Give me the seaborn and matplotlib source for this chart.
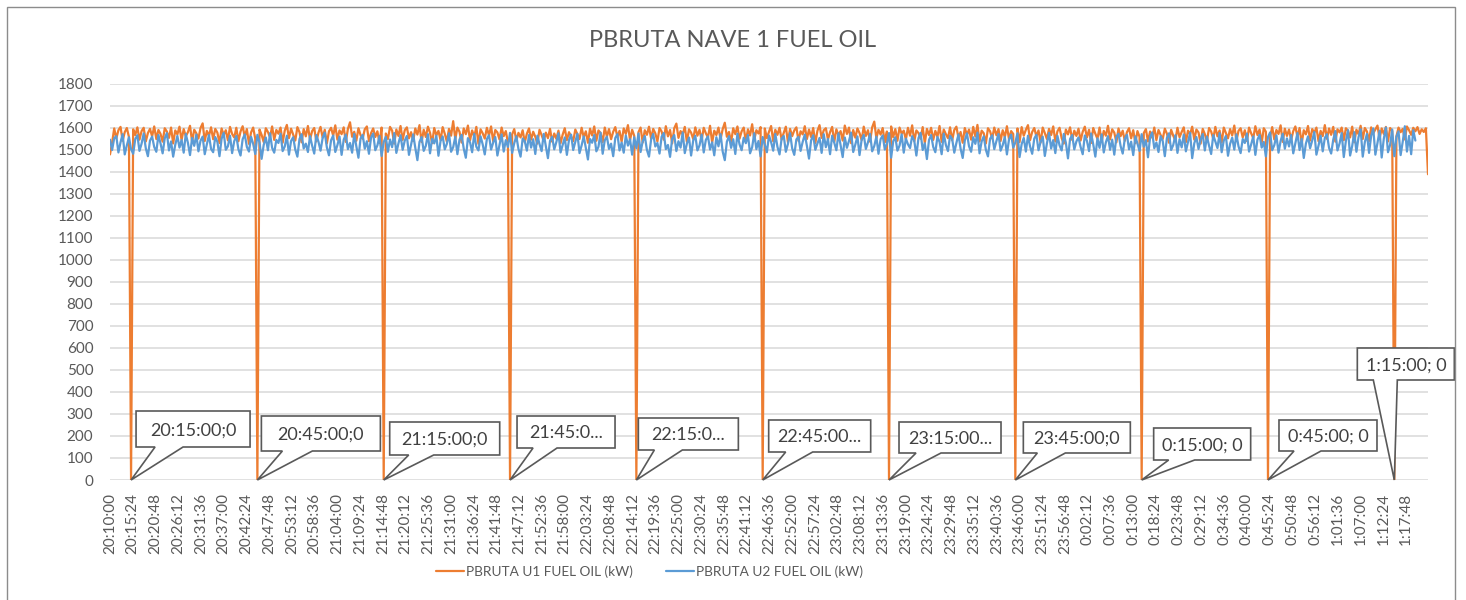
import numpy as np
import pandas as pd
import matplotlib
matplotlib.use("Agg")
import matplotlib.pyplot as plt
import matplotlib.transforms as mtransforms
from matplotlib.patches import Polygon, Rectangle
import seaborn as sns

# one sample every 30 s starting at 20:10:00
start_s = 20 * 3600 + 10 * 60
step_s = 30

u1_name = "PBRUTA U1 FUEL OIL (kW)"
u2_name = "PBRUTA U2 FUEL OIL (kW)"

u1_kw = [
    1478, 1532, 1596, 1551, 1588, 1603, 1540, 1579, 1598, 1557, 0, 1592, 1566, 1601, 1545, 1584, 1599, 1537, 1575, 1594,
    1560, 1605, 1548, 1589, 1571, 1536, 1597, 1582, 1553, 1600, 1528, 1587, 1569, 1604, 1543, 1593, 1561, 1579, 1608, 1535,
    1590, 1574, 1550, 1598, 1619, 1539, 1585, 1562, 1601, 1547, 1594, 1577, 1530, 1596, 1566, 1588, 1542, 1603, 1571, 1555,
    1599, 1538, 1582, 1606, 1559, 1593, 1526, 1578, 1600, 1549, 0, 1591, 1567, 1534, 1597, 1580, 1556, 1605, 1544, 1589,
    1572, 1600, 1531, 1586, 1612, 1552, 1595, 1568, 1541, 1602, 1579, 1533, 1593, 1560, 1607, 1546, 1584, 1598, 1537, 1576,
    1603, 1554, 1590, 1528, 1583, 1599, 1563, 1610, 1545, 1587, 1570, 1601, 1535, 1594, 1624, 1558, 1581, 1540, 1597, 1566,
    1549, 1592, 1605, 1538, 1575, 1596, 1557, 1583, 1530, 1600, 0, 1573, 1548, 1603, 1586, 1527, 1591, 1562, 1607, 1544,
    1588, 1601, 1551, 1579, 1539, 1596, 1568, 1611, 1534, 1590, 1557, 1604, 1576, 1529, 1598, 1565, 1585, 1543, 1602, 1572,
    1536, 1594, 1563, 1629, 1547, 1600, 1581, 1532, 1596, 1570, 1609, 1542, 1587, 1558, 1603, 1526, 1592, 1574, 1550, 1599,
    1564, 1605, 1537, 1589, 1578, 1546, 1600, 1561, 1584, 1531, 0, 1569, 1593, 1541, 1576, 1555, 1588, 1533, 1572, 1596,
    1545, 1581, 1558, 1527, 1590, 1566, 1539, 1577, 1552, 1594, 1536, 1573, 1549, 1586, 1529, 1568, 1597, 1543, 1579, 1560,
    1538, 1591, 1570, 1548, 1599, 1556, 1583, 1531, 1595, 1564, 1605, 1540, 1587, 1575, 1534, 1600, 1559, 1593, 1547, 1581,
    1602, 1557, 1585, 1536, 1596, 1571, 1611, 1543, 1590, 1562, 0, 1579, 1600, 1532, 1588, 1567, 1604, 1550, 1594, 1574,
    1537, 1598, 1582, 1545, 1606, 1560, 1589, 1528, 1597, 1618, 1553, 1584, 1569, 1603, 1535, 1592, 1577, 1548, 1601, 1563,
    1590, 1541, 1599, 1574, 1555, 1608, 1532, 1586, 1566, 1600, 1547, 1593, 1622, 1558, 1580, 1534, 1597, 1570, 1605, 1549,
    1583, 1600, 1539, 1592, 1564, 1615, 1544, 1588, 1573, 1602, 0, 1596, 1552, 1581, 1607, 1538, 1590, 1567, 1599, 1545,
    1576, 1604, 1533, 1594, 1561, 1587, 1601, 1540, 1583, 1569, 1606, 1548, 1591, 1557, 1598, 1530, 1585, 1611, 1553, 1588,
    1597, 1546, 1579, 1603, 1535, 1592, 1565, 1584, 1541, 1609, 1571, 1600, 1529, 1589, 1554, 1596, 1575, 1543, 1604, 1562,
    1588, 1536, 1601, 1627, 1551, 1590, 1568, 1598, 1534, 1582, 0, 1605, 1557, 1593, 1540, 1600, 1572, 1586, 1546, 1599,
    1563, 1610, 1538, 1587, 1575, 1549, 1602, 1530, 1594, 1566, 1599, 1544, 1585, 1558, 1607, 1535, 1591, 1570, 1552, 1601,
    1542, 1589, 1604, 1553, 1580, 1531, 1598, 1567, 1591, 1545, 1603, 1560, 1612, 1537, 1586, 1574, 1528, 1597, 1583, 1550,
    1600, 1565, 1593, 1539, 1588, 1556, 1606, 1547, 1584, 1571, 0, 1596, 1534, 1602, 1563, 1590, 1611, 1543, 1580, 1598,
    1559, 1587, 1532, 1600, 1575, 1548, 1594, 1566, 1605, 1537, 1583, 1599, 1552, 1527, 1591, 1569, 1601, 1544, 1586, 1562,
    1595, 1541, 1581, 1604, 1555, 1590, 1530, 1598, 1572, 1549, 1600, 1536, 1585, 1563, 1608, 1546, 1592, 1577, 1533, 1596,
    1561, 1586, 1540, 1579, 1597, 1551, 1588, 1529, 1584, 1558, 0, 1575, 1593, 1537, 1582, 1554, 1600, 1543, 1589, 1566,
    1548, 1595, 1572, 1531, 1590, 1563, 1542, 1599, 1556, 1580, 1601, 1534, 1586, 1569, 1604, 1545, 1591, 1578, 1527, 1594,
    1570, 1538, 1598, 1582, 1549, 1603, 1560, 1587, 1532, 1600, 1576, 1551, 1593, 1564, 1609, 1540, 1585, 1597, 1555, 1588,
    1539, 1600, 1574, 1552, 1606, 1566, 1591, 1530, 1597, 1581, 0, 1558, 1602, 1546, 1589, 1571, 1610, 1535, 1595, 1562,
    1591, 1544, 1584, 1605, 1557, 1598, 1527, 1588, 1569, 1607, 1541, 1593, 1576, 1600, 1538, 1585, 1561, 1611, 1549, 1596,
    1567, 1603, 1536, 1592, 1578, 1600, 1543, 1597, 1586, 1555, 1604, 1533, 1590, 1570, 1608, 1548, 1598, 1582, 1539, 1601,
    1574, 1592, 1609, 1550, 1596, 1571, 1603, 1537, 1598, 1585, 0, 1560, 1600, 1579, 1594, 1546, 1605, 1588, 1567, 1599,
    1583, 1602, 1571, 1592, 1580, 1597, 1388,
]

u2_kw = [
    1545, 1498, 1552, 1561, 1487, 1533, 1570, 1478, 1519, 1556, 1502, 1481, 1548, 1565, 1494, 1527, 1573, 1506, 1470, 1541,
    1559, 1512, 1490, 1566, 1528, 1483, 1551, 1575, 1496, 1537, 1468, 1522, 1562, 1509, 1544, 1486, 1571, 1531, 1475, 1553,
    1517, 1568, 1492, 1540, 1559, 1479, 1524, 1566, 1503, 1488, 1557, 1535, 1470, 1549, 1576, 1499, 1515, 1563, 1484, 1538,
    1562, 1501, 1473, 1547, 1569, 1512, 1491, 1558, 1526, 1480, 1567, 1533, 1458, 1521, 1555, 1497, 1574, 1508, 1486, 1544,
    1530, 1572, 1493, 1514, 1563, 1477, 1539, 1556, 1500, 1468, 1548, 1570, 1505, 1527, 1489, 1561, 1518, 1482, 1566, 1536,
    1495, 1553, 1577, 1510, 1474, 1542, 1564, 1489, 1520, 1559, 1476, 1545, 1568, 1502, 1530, 1486, 1571, 1515, 1463, 1550,
    1567, 1504, 1538, 1481, 1555, 1573, 1497, 1519, 1562, 1471, 1534, 1558, 1490, 1546, 1511, 1575, 1485, 1528, 1565, 1499,
    1541, 1562, 1476, 1523, 1569, 1508, 1452, 1535, 1557, 1494, 1517, 1570, 1483, 1549, 1528, 1563, 1472, 1539, 1560, 1501,
    1526, 1574, 1490, 1511, 1558, 1479, 1545, 1567, 1505, 1463, 1552, 1533, 1488, 1571, 1513, 1496, 1560, 1524, 1478, 1548,
    1565, 1500, 1532, 1557, 1473, 1520, 1569, 1491, 1543, 1512, 1576, 1485, 1529, 1561, 1503, 1468, 1550, 1538, 1495, 1566,
    1509, 1547, 1480, 1563, 1525, 1493, 1571, 1516, 1461, 1540, 1558, 1501, 1534, 1574, 1487, 1521, 1555, 1476, 1544, 1568,
    1498, 1536, 1572, 1484, 1519, 1560, 1507, 1455, 1548, 1531, 1566, 1492, 1513, 1577, 1481, 1542, 1559, 1503, 1527, 1470,
    1553, 1570, 1496, 1532, 1486, 1564, 1518, 1547, 1477, 1556, 1506, 1573, 1489, 1537, 1562, 1499, 1468, 1545, 1571, 1514,
    1530, 1482, 1558, 1575, 1502, 1521, 1467, 1549, 1566, 1493, 1538, 1509, 1578, 1484, 1527, 1555, 1473, 1541, 1563, 1496,
    1519, 1568, 1487, 1544, 1560, 1500, 1533, 1474, 1556, 1515, 1570, 1491, 1452, 1536, 1561, 1508, 1547, 1480, 1572, 1524,
    1497, 1554, 1529, 1566, 1483, 1511, 1574, 1502, 1539, 1469, 1557, 1522, 1488, 1564, 1534, 1495, 1571, 1513, 1478, 1550,
    1562, 1490, 1526, 1575, 1506, 1476, 1546, 1558, 1494, 1535, 1568, 1517, 1459, 1542, 1565, 1499, 1528, 1553, 1485, 1570,
    1511, 1548, 1479, 1563, 1531, 1497, 1574, 1520, 1466, 1555, 1508, 1540, 1577, 1489, 1523, 1560, 1475, 1545, 1567, 1503,
    1533, 1571, 1492, 1516, 1559, 1481, 1547, 1564, 1500, 1527, 1575, 1463, 1538, 1556, 1495, 1518, 1569, 1486, 1550, 1524,
    1507, 1561, 1540, 1473, 1552, 1576, 1498, 1529, 1457, 1544, 1566, 1512, 1488, 1558, 1535, 1479, 1572, 1521, 1493, 1563,
    1548, 1486, 1530, 1569, 1504, 1462, 1541, 1574, 1515, 1490, 1556, 1526, 1577, 1483, 1537, 1560, 1499, 1469, 1549, 1565,
    1502, 1538, 1571, 1495, 1520, 1557, 1478, 1546, 1568, 1509, 1532, 1574, 1466, 1525, 1553, 1491, 1563, 1514, 1481, 1550,
    1567, 1497, 1535, 1559, 1471, 1528, 1576, 1505, 1543, 1484, 1562, 1519, 1496, 1571, 1531, 1460, 1548, 1566, 1501, 1537,
    1555, 1512, 1479, 1564, 1540, 1493, 1573, 1524, 1468, 1551, 1508, 1569, 1487, 1533, 1561, 1499, 1545, 1477, 1558, 1572,
    1516, 1482, 1549, 1567, 1501, 1536, 1475, 1560, 1527, 1494, 1570, 1513, 1543, 1465, 1556, 1578, 1506, 1532, 1489, 1561,
    1539, 1470, 1553, 1574, 1498, 1521, 1565, 1485, 1547, 1510, 1568, 1492, 1534, 1576, 1461, 1529, 1557, 1503, 1544, 1571,
    1496, 1559, 1518, 1480, 1566, 1537, 1507, 1575, 1488, 1541, 1562, 1472, 1526, 1554, 1500, 1569, 1515, 1484, 1548, 1530,
    1573, 1491, 1523, 1560, 1476, 1545, 1567, 1509, 1535, 1469, 1557, 1578, 1497, 1520, 1564, 1486, 1539, 1572, 1504, 1551,
    1514, 1566, 1483, 1530, 1575, 1498, 1549, 1462, 1527, 1560, 1506, 1541, 1580, 1477, 1518, 1563, 1492, 1553, 1570, 1508,
    1482, 1545, 1584, 1496, 1528, 1575, 1466, 1540, 1588, 1473, 1517, 1579, 1490, 1556, 1592, 1468, 1534, 1571, 1485, 1562,
    1596, 1477, 1530, 1586, 1464, 1549, 1600, 1488, 1521, 1591, 1470, 1558, 1583, 1475, 1536, 1606, 1491, 1562, 1479, 1588,
    1541, None, None, None, None, None, None,
]

# data label texts as Excel shows them (some truncated)
callout_texts = ["20:15:00;0", "20:45:00;0", "21:15:00;0", "21:45:0...", "22:15:0...", "22:45:00...",
                 "23:15:00...", "23:45:00;0", "0:15:00; 0", "0:45:00; 0", "1:15:00; 0"]

# callout shape in pixels relative to the point: box left, right, bottom, top, pointer left, right
callout_geom = [
    (5, 119, 33, 69, 24, 52),
    (4, 123, 29, 64, 25, 55),
    (6, 116, 25, 58, 25, 50),
    (7, 105, 32, 64, 23, 47),
    (2, 102, 30, 62, 18, 46),
    (6, 108, 28, 60, 23, 50),
    (10, 112, 27, 58, 27, 52),
    (8, 115, 27, 58, 22, 50),
    (12, 109, 20, 52, 27, 53),
    (11, 109, 29, 60, 26, 53),
    (-37, 60, 100, 132, -21, 3),
]

orange = "#ED7D31"
blue = "#5B9BD5"
grey_txt = "#595959"

df = pd.DataFrame({
    "t": np.arange(len(u1_kw)) * step_s,
    "u1": pd.to_numeric(pd.Series(u1_kw), errors="coerce"),
    "u2": pd.to_numeric(pd.Series(u2_kw), errors="coerce"),
})


def hms(sec):
    tot = int(start_s + sec)
    return f"{(tot // 3600) % 24}:{(tot // 60) % 60:02d}:{tot % 60:02d}"


sns.set_theme(style="white")
plt.rcParams["font.family"] = ["Lato", "DejaVu Sans"]

fig = plt.figure(figsize=(14.66, 6.0), dpi=100)
ax = fig.add_axes([110 / 1466, 120 / 600, (1428 - 110) / 1466, (480 - 83.5) / 600])

sns.lineplot(data=df, x="t", y="u1", color=orange, lw=1.6, ax=ax, label=u1_name, zorder=3)
sns.lineplot(data=df.dropna(), x="t", y="u2", color=blue, lw=1.6, ax=ax, label=u2_name, zorder=4)

ax.set_xlim(0, df.t.iloc[-1])
ax.set_ylim(0, 1800)
ax.set_yticks(range(0, 1801, 100))
xt = np.arange(0, df.t.iloc[-1] + 1, 324)
ax.set_xticks(xt)
ax.set_xticklabels([hms(s) for s in xt], rotation=90)
ax.tick_params(axis="x", length=0, pad=9, labelsize=11, labelcolor=grey_txt)
ax.tick_params(axis="y", length=0, pad=12, labelsize=11, labelcolor=grey_txt)
ax.set_xlabel("")
ax.set_ylabel("")
for s in ax.spines.values():
    s.set_visible(False)
ax.yaxis.grid(True, color="#D9D9D9", lw=1.1)
ax.xaxis.grid(False)
ax.set_axisbelow(True)

handles, labels = ax.get_legend_handles_labels()
ax.get_legend().remove()
leg = fig.legend(handles, labels, loc="center", bbox_to_anchor=(0.443, 0.047), ncol=2,
                 frameon=False, fontsize=9.8, handlelength=2.1, handletextpad=0.15, columnspacing=2.4)
for txt in leg.get_texts():
    txt.set_color(grey_txt)

fig.text(0.5, 0.933, "PBRUTA NAVE 1 FUEL OIL", ha="center", va="center", fontsize=17, color=grey_txt)

# Excel style callouts on the drops to zero
drop_idx = df.index[df.u1 == 0].tolist()
for i, txt, (bl, br, bb, bt, pl, pr) in zip(drop_idx, callout_texts, callout_geom):
    px, py = ax.transData.transform((df.t[i], df.u1[i]))
    tr = mtransforms.Affine2D().translate(px, py)
    verts = [(0, 0), (pr, bb), (br, bb), (br, bt), (bl, bt), (bl, bb), (pl, bb)]
    ax.add_patch(Polygon(verts, closed=True, transform=tr, fc="white", ec="#595959",
                         lw=1.2, zorder=6, clip_on=False))
    ax.text((bl + br) / 2, (bb + bt) / 2, txt, transform=tr, ha="center", va="center_baseline",
            fontsize=13, color="#404040", zorder=7, clip_on=False)

fig.add_artist(Rectangle((6.5 / 1466, -0.1), (1455 - 6.5) / 1466, 0.1 + (600 - 6.5) / 600,
                         transform=fig.transFigure, fill=False, ec="#8C8C8C", lw=1.0))

fig.savefig("out.png", dpi=100)
